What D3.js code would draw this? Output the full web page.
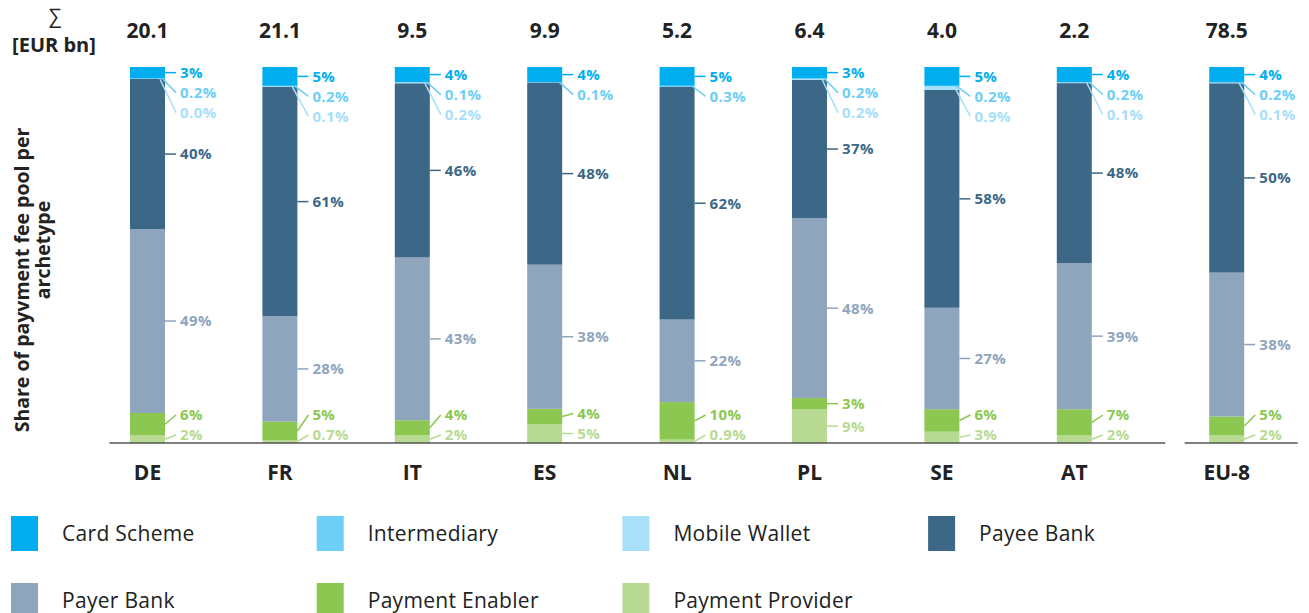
<!DOCTYPE html>
<html>
<head>
<meta charset="utf-8">
<script src="https://cdn.jsdelivr.net/npm/d3@7"></script>
<style>
  body { margin: 0; background: #fff; }
  text { font-family: "Open Sans", sans-serif; }
</style>
</head>
<body>
<div id="main"></div>
<script>
// dados
const categories = ["DE", "FR", "IT", "ES", "NL", "PL", "SE", "AT", "EU-8"];
const totals = ["20.1", "21.1", "9.5", "9.9", "5.2", "6.4", "4.0", "2.2", "78.5"];
const archetypes = ["Card Scheme", "Intermediary", "Mobile Wallet", "Payee Bank", "Payer Bank", "Payment Enabler", "Payment Provider"];
const cardScheme      = [3, 5, 4, 4, 5, 3, 5, 4, 4];
const intermediary    = [0.2, 0.2, 0.1, 0.1, 0.3, 0.2, 0.2, 0.2, 0.2];
const mobileWallet    = [0.0, 0.1, 0.2, null, null, 0.2, 0.9, 0.1, 0.1];
const payeeBank       = [40, 61, 46, 48, 62, 37, 58, 48, 50];
const payerBank       = [49, 28, 43, 38, 22, 48, 27, 39, 38];
const paymentEnabler  = [6, 5, 4, 4, 10, 3, 6, 7, 5];
const paymentProvider = [2, 0.7, 2, 5, 0.9, 9, 3, 2, 2];

const colors = ["#00AEEF", "#6DCFF6", "#A8E0F9", "#3C6786", "#8FA5BD", "#8BC751", "#B8DA93"];

class StackedShares {
  constructor() {
    this.w = 1309;
    this.h = 613;
    this.top = 67;
    this.base = 443;
    this.barW = 35;
    this.series = [cardScheme, intermediary, mobileWallet, payeeBank, payerBank, paymentEnabler, paymentProvider];
    this.createSvg();
  }

  createSvg() {
    this.svg = d3.select("#main")
      .append("svg")
      .attr("width", this.w)
      .attr("height", this.h);
  }

  computeStack() {
    this.rows = categories.map((c, i) => {
      const row = { cat: c, total: totals[i] };
      archetypes.forEach((a, k) => { row[a] = this.series[k][i] || 0; });
      return row;
    });

    // provider em baixo, card scheme em cima
    this.stacked = d3.stack()
      .keys(archetypes.slice().reverse())
      .offset(d3.stackOffsetExpand)(this.rows);

    this.xScale = d3.scalePoint()
      .domain(categories)
      .range([147.5, 147.5 + 132.4 * 8]);
    // EU-8 fica separado
    this.xPos = c => this.xScale(c) + (c === "EU-8" ? 20 : 0);

    this.yScale = d3.scaleLinear().domain([0, 1]).range([this.base, this.top]);
    this.color = d3.scaleOrdinal().domain(archetypes).range(colors);
  }

  render() {
    const g = this.svg.append("g");

    g.selectAll("g.layer")
      .data(this.stacked)
      .join("g")
      .attr("class", "layer")
      .attr("fill", d => this.color(d.key))
      .selectAll("rect")
      .data(d => d)
      .join("rect")
      .attr("x", d => this.xPos(d.data.cat) - this.barW / 2)
      .attr("y", d => this.yScale(d[1]))
      .attr("width", this.barW)
      .attr("height", d => this.yScale(d[0]) - this.yScale(d[1]));

    // linha base
    const first = this.xPos("DE"), last = this.xPos("AT"), eu = this.xPos("EU-8");
    g.append("line").attr("x1", first - 38).attr("x2", last + 91)
      .attr("y1", this.base).attr("y2", this.base)
      .attr("stroke", "#555").attr("stroke-width", 1.5);
    g.append("line").attr("x1", eu - 42).attr("x2", eu + 71)
      .attr("y1", this.base).attr("y2", this.base)
      .attr("stroke", "#555").attr("stroke-width", 1.5);

    this.renderLabels(g);
  }

  renderLabels(g) {
    const fmt = v => v < 1 ? v.toFixed(1) + "%" : v.toFixed(0) + "%";
    const seg = {};
    this.stacked.forEach(s => { seg[s.key] = s; });
    const labels = [];

    categories.forEach((c, i) => {
      const right = this.xPos(c) + this.barW / 2;
      const mid = k => {
        const d = seg[k][i];
        return (this.yScale(d[0]) + this.yScale(d[1])) / 2;
      };
      const edge = k => this.yScale(seg[k][i][0]);

      const cardY = mid("Card Scheme");
      labels.push({ k: 0, v: cardScheme[i], x0: right, y0: cardY, y: cardY });
      labels.push({ k: 1, v: intermediary[i], x0: right - 3, y0: edge("Card Scheme"), y: cardY + 20 });
      if (mobileWallet[i] !== null)
        labels.push({ k: 2, v: mobileWallet[i], x0: right - 5, y0: edge("Card Scheme") + 1, y: cardY + 40 });
      labels.push({ k: 3, v: payeeBank[i], x0: right, y0: mid("Payee Bank"), y: mid("Payee Bank") });
      labels.push({ k: 4, v: payerBank[i], x0: right, y0: mid("Payer Bank"), y: mid("Payer Bank") });
      const provY = Math.min(mid("Payment Provider"), 435);
      const enY = Math.min(mid("Payment Enabler"), provY - 20);
      labels.push({ k: 5, v: paymentEnabler[i], x0: right, y0: mid("Payment Enabler"), y: enY });
      labels.push({ k: 6, v: paymentProvider[i], x0: right, y0: mid("Payment Provider"), y: provY });
      labels.forEach(l => { if (l.right === undefined) l.right = right; });
    });

    g.selectAll("line.lead")
      .data(labels)
      .join("line")
      .attr("class", "lead")
      .attr("x1", d => d.x0)
      .attr("y1", d => d.y0)
      .attr("x2", d => d.right + 11)
      .attr("y2", d => d.y)
      .attr("stroke", d => colors[d.k])
      .attr("stroke-width", 1.5);

    g.selectAll("text.pct")
      .data(labels)
      .join("text")
      .attr("class", "pct")
      .attr("x", d => d.right + 15)
      .attr("y", d => d.y)
      .attr("dy", "0.36em")
      .attr("fill", d => colors[d.k])
      .attr("font-size", "15px")
      .attr("font-weight", 700)
      .attr("letter-spacing", "0.4px")
      .text(d => fmt(d.v));

    // totais no topo
    g.selectAll("text.total")
      .data(this.rows)
      .join("text")
      .attr("class", "total")
      .attr("x", d => this.xPos(d.cat))
      .attr("y", 38)
      .attr("text-anchor", "middle")
      .attr("font-size", "21px")
      .attr("font-weight", 700)
      .attr("fill", "#222")
      .text(d => d.total);

    // categorias
    g.selectAll("text.cat")
      .data(this.rows)
      .join("text")
      .attr("class", "cat")
      .attr("x", d => this.xPos(d.cat))
      .attr("y", 480)
      .attr("text-anchor", "middle")
      .attr("font-size", "21px")
      .attr("font-weight", 700)
      .attr("fill", "#222")
      .text(d => d.cat);

    // cabecalho da soma
    g.append("text").attr("x", 55).attr("y", 23).attr("text-anchor", "middle")
      .attr("font-size", "20px").attr("fill", "#222").text("∑");
    g.append("text").attr("x", 54).attr("y", 52).attr("text-anchor", "middle")
      .attr("font-size", "20px").attr("font-weight", 700).attr("fill", "#222").text("[EUR bn]");

    // titulo do eixo Y
    g.append("text").attr("transform", "translate(29,280) rotate(-90)")
      .attr("text-anchor", "middle").attr("font-size", "19.5px").attr("font-weight", 700)
      .attr("fill", "#222").text("Share of payvment fee pool per");
    g.append("text").attr("transform", "translate(50,250) rotate(-90)")
      .attr("text-anchor", "middle").attr("font-size", "19.5px").attr("font-weight", 700)
      .attr("fill", "#222").text("archetype");
  }

  renderLegend() {
    const items = archetypes.map((a, i) => ({ name: a, col: i % 4, row: Math.floor(i / 4) }));
    const lg = this.svg.append("g")
      .selectAll("g")
      .data(items)
      .join("g")
      .attr("transform", d => `translate(${11 + d.col * 305.7},${516 + d.row * 67})`);

    lg.append("rect")
      .attr("width", 27)
      .attr("height", 35)
      .attr("fill", d => this.color(d.name));

    lg.append("text")
      .attr("x", 51)
      .attr("y", 17)
      .attr("dy", "0.36em")
      .attr("font-size", "21px")
      .attr("font-weight", 500)
      .attr("letter-spacing", "0.3px")
      .attr("fill", "#222")
      .text(d => d.name);
  }
}

function main() {
  const chart = new StackedShares();
  chart.computeStack();
  chart.render();
  chart.renderLegend();
}

main();
</script>
</body>
</html>
